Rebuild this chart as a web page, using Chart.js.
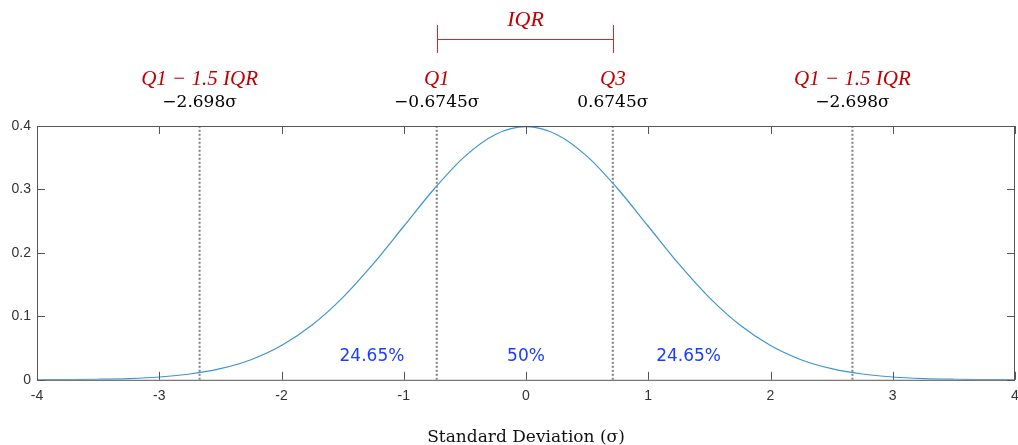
<!DOCTYPE html>
<html>
<head>
<meta charset="utf-8">
<script src="https://cdn.jsdelivr.net/npm/chart.js@4"></script>
<style>
  html, body { margin: 0; padding: 0; background: #fff; }
  #wrap { width: 1018px; height: 445px; }
</style>
</head>
<body>
<div id="wrap"><canvas id="grafico"></canvas></div>
<script>
// curve values (standard normal density)
const xValues = [-4, -3.75, -3.5, -3.25, -3, -2.75, -2.5, -2.25, -2, -1.75, -1.5, -1.25, -1, -0.75, -0.5, -0.25,
    0, 0.25, 0.5, 0.75, 1, 1.25, 1.5, 1.75, 2, 2.25, 2.5, 2.75, 3, 3.25, 3.5, 3.75, 4];
const yValues = [0.0001, 0.0004, 0.0009, 0.0020, 0.0044, 0.0091, 0.0175, 0.0317, 0.0540, 0.0863, 0.1295, 0.1826, 0.2420, 0.3011, 0.3521, 0.3867,
    0.3989, 0.3867, 0.3521, 0.3011, 0.2420, 0.1826, 0.1295, 0.0863, 0.0540, 0.0317, 0.0175, 0.0091, 0.0044, 0.0020, 0.0009, 0.0004, 0.0001];

// dotted marker lines and their labels
const markerX = [-2.67, -0.73, 0.71, 2.67];
const markerNames = ['Q1 \u2212 1.5 IQR', 'Q1', 'Q3', 'Q1 \u2212 1.5 IQR'];
const markerValues = ['\u22122.698\u03c3', '\u22120.6745\u03c3', '0.6745\u03c3', '\u22122.698\u03c3'];

// share labels inside the plot
const shareX = [-1.26, 0, 1.33];
const shareY = [0.036, 0.036, 0.036];
const shareText = ['24.65%', '50%', '24.65%'];

const xTicks = [-4, -3, -2, -1, 0, 1, 2, 3, 4];
const yTicks = [0, 0.1, 0.2, 0.3, 0.4];

const curva = xValues.map((x, i) => ({ x: x, y: yValues[i] }));
const linhas = markerX.map(x => ({
    data: [{ x: x, y: 0 }, { x: x, y: 0.4 }],
    borderColor: '#808080',
    borderWidth: 2,
    borderDash: [2, 2],
    pointRadius: 0,
    fill: false
}));

const anotacoes = {
    id: 'anotacoes',
    afterDraw(chart) {
        const ctx = chart.ctx;
        const xs = chart.scales.x;
        const ys = chart.scales.y;
        const area = chart.chartArea;
        ctx.save();

        // box and inward ticks
        ctx.strokeStyle = '#555';
        ctx.lineWidth = 1;
        ctx.strokeRect(area.left + 0.5, area.top + 0.5, area.right - area.left - 1, area.bottom - area.top);
        ctx.beginPath();
        xTicks.forEach(t => {
            const px = Math.round(xs.getPixelForValue(t)) + 0.5;
            ctx.moveTo(px, area.bottom); ctx.lineTo(px, area.bottom - 8);
            ctx.moveTo(px, area.top); ctx.lineTo(px, area.top + 8);
        });
        yTicks.forEach(t => {
            const py = Math.round(ys.getPixelForValue(t)) + 0.5;
            ctx.moveTo(area.left, py); ctx.lineTo(area.left + 8, py);
            ctx.moveTo(area.right, py); ctx.lineTo(area.right - 8, py);
        });
        ctx.stroke();

        // labels above the plot
        ctx.textAlign = 'center';
        ctx.textBaseline = 'middle';
        markerX.forEach((x, i) => {
            const px = xs.getPixelForValue(x);
            ctx.fillStyle = '#c00000';
            ctx.font = 'italic 21px "Liberation Serif"';
            ctx.fillText(markerNames[i], px, 79);
            ctx.fillStyle = '#000';
            ctx.font = '17px "DejaVu Serif"';
            ctx.fillText(markerValues[i], px, 103);
        });

        // IQR bracket
        const a = Math.round(xs.getPixelForValue(markerX[1])) + 0.5;
        const b = Math.round(xs.getPixelForValue(markerX[2])) + 0.5;
        ctx.strokeStyle = '#d62828';
        ctx.beginPath();
        ctx.moveTo(a, 39.5); ctx.lineTo(b, 39.5);
        ctx.moveTo(a, 25); ctx.lineTo(a, 53);
        ctx.moveTo(b, 25); ctx.lineTo(b, 53);
        ctx.stroke();
        ctx.fillStyle = '#c00000';
        ctx.font = 'italic 22px "Liberation Serif"';
        ctx.fillText('IQR', (a + b) / 2, 20);

        // shares
        ctx.fillStyle = '#1a3cff';
        ctx.font = '17px "DejaVu Sans"';
        shareText.forEach((t, i) => {
            ctx.fillText(t, xs.getPixelForValue(shareX[i]), ys.getPixelForValue(shareY[i]));
        });
        ctx.restore();
    }
};

new Chart(document.getElementById('grafico'), {
    type: 'line',
    data: {
        datasets: [{
            data: curva,
            borderColor: '#3d95d6',
            borderWidth: 1.2,
            pointRadius: 0,
            cubicInterpolationMode: 'monotone',
            fill: false
        }].concat(linhas)
    },
    options: {
        responsive: true,
        maintainAspectRatio: false,
        animation: false,
        events: [],
        layout: { padding: { top: 126, right: 3, left: 0, bottom: -3 } },
        plugins: { legend: { display: false }, tooltip: { enabled: false } },
        scales: {
            x: {
                type: 'linear',
                min: -4,
                max: 4,
                grid: { display: false, drawTicks: false },
                border: { display: false },
                afterFit(scale) { scale.paddingRight = 0; scale.paddingLeft = 0; },
                ticks: {
                    stepSize: 1,
                    padding: 8,
                    color: '#333',
                    font: { family: 'Liberation Sans', size: 14 }
                },
                title: {
                    display: true,
                    text: 'Standard Deviation (\u03c3)',
                    color: '#111',
                    font: { family: 'DejaVu Serif', size: 17 },
                    padding: { top: 15, bottom: 0 }
                }
            },
            y: {
                min: 0,
                max: 0.4,
                grid: { display: false, drawTicks: false },
                border: { display: false },
                afterFit(scale) { scale.width = 37; },
                ticks: {
                    stepSize: 0.1,
                    padding: 6,
                    color: '#333',
                    font: { family: 'Liberation Sans', size: 14 }
                }
            }
        }
    },
    plugins: [anotacoes]
});
</script>
</body>
</html>
